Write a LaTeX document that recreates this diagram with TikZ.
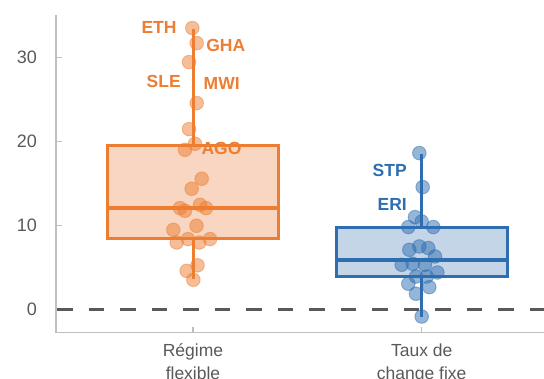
\documentclass[tikz,border=0pt]{standalone}
\usepackage{fontspec}
\setmainfont{Liberation Sans}
\usepackage{tikz}
\usetikzlibrary{calc}

\definecolor{orgline}{RGB}{237,125,49}
\definecolor{orgfill}{RGB}{248,214,193}
\definecolor{blueline}{RGB}{46,110,176}
\definecolor{bluefill}{RGB}{197,213,232}
\definecolor{axisgray}{RGB}{191,191,191}
\definecolor{textgray}{RGB}{89,89,89}

\tikzset{
	axisline/.style={axisgray, line width=1.5pt},
	ticklab/.style={textgray, anchor=east, inner sep=0pt, font=\fontsize{18}{18}\selectfont},
	catlab/.style={textgray, anchor=north, inner sep=0pt, align=center, font=\fontsize{17.5}{23}\selectfont},
	ctrylab/.style={inner sep=0pt, font=\fontsize{17.5}{17.5}\selectfont\bfseries},
	orgdot/.style={fill=orgline, fill opacity=0.5, draw=orgline, draw opacity=0.45, line width=1pt},
	bluedot/.style={fill=blueline, fill opacity=0.5, draw=blueline, draw opacity=0.45, line width=1pt},
}

\begin{document}
\begin{tikzpicture}[x=1pt, y=8.4pt]
	\useasboundingbox (0,-8.298) rectangle (544,36.82);

	% axes
	\draw[axisline] (56,35.06) -- (56,-2.738) -- (544,-2.738);
	\draw[axisline] (56,0) -- (62,0);
	\draw[axisline] (56,10) -- (62,10);
	\draw[axisline] (56,20) -- (62,20);
	\draw[axisline] (56,30) -- (62,30);
	\draw[axisline] (193,-2.738) -- (193,-2.1);
	\draw[axisline] (421.7,-2.738) -- (421.7,-2.1);

	\node[ticklab] (t0) at (37,0) {0};
	\node[ticklab] (t10) at (37,10) {10};
	\node[ticklab] (t20) at (37,20) {20};
	\node[ticklab] (t30) at (37,30) {30};

	\node[catlab] (flex) at (193,-4.1) {Régime\\flexible};
	\node[catlab] (fixe) at (421.7,-4.1) {Taux de\\change fixe};

	% zero line
	\draw[textgray, line width=2.5pt, dash pattern=on 15.5pt off 16pt] (57.3,0) -- (544,0);

	% boxes
	\filldraw[fill=orgfill, draw=orgline, line width=3pt] (107.7,8.45) rectangle (278.3,19.44);
	\draw[orgline, line width=4.5pt] (107.7,12.06) -- (278.3,12.06);
	\draw[orgline, line width=3pt] (193,19.44) -- (193,33.37);
	\draw[orgline, line width=3pt] (193,8.45) -- (193,3.61);

	\filldraw[fill=bluefill, draw=blueline, line width=3pt] (336,3.88) rectangle (507.5,9.76);
	\draw[blueline, line width=4.5pt] (336,5.87) -- (507.5,5.87);
	\draw[blueline, line width=3pt] (421.7,9.76) -- (421.7,18.49);
	\draw[blueline, line width=3pt] (421.7,3.88) -- (421.7,-0.88);

	% points
	\filldraw[orgdot] (192.3,33.48) circle (6.8pt);
	\filldraw[orgdot] (196.7,31.69) circle (6.8pt);
	\filldraw[orgdot] (189,29.43) circle (6.8pt);
	\filldraw[orgdot] (196.7,24.55) circle (6.8pt);
	\filldraw[orgdot] (189,21.45) circle (6.8pt);
	\filldraw[orgdot] (195,19.70) circle (6.8pt);
	\filldraw[orgdot] (185,18.99) circle (6.8pt);
	\filldraw[orgdot] (201.7,15.54) circle (6.8pt);
	\filldraw[orgdot] (191.7,14.35) circle (6.8pt);
	\filldraw[orgdot] (180,12.05) circle (6.8pt);
	\filldraw[orgdot] (185,11.73) circle (6.8pt);
	\filldraw[orgdot] (200,12.44) circle (6.8pt);
	\filldraw[orgdot] (206,12.05) circle (6.8pt);
	\filldraw[orgdot] (173.3,9.46) circle (6.8pt);
	\filldraw[orgdot] (196.5,9.94) circle (6.8pt);
	\filldraw[orgdot] (176.7,7.95) circle (6.8pt);
	\filldraw[orgdot] (188,8.36) circle (6.8pt);
	\filldraw[orgdot] (199.3,7.95) circle (6.8pt);
	\filldraw[orgdot] (210,8.36) circle (6.8pt);
	\filldraw[orgdot] (197.5,5.24) circle (6.8pt);
	\filldraw[orgdot] (186.7,4.58) circle (6.8pt);
	\filldraw[orgdot] (193.3,3.51) circle (6.8pt);

	\filldraw[bluedot] (419.3,18.6) circle (6.8pt);
	\filldraw[bluedot] (422.7,14.55) circle (6.8pt);
	\filldraw[bluedot] (415,10.98) circle (6.8pt);
	\filldraw[bluedot] (421.7,10.45) circle (6.8pt);
	\filldraw[bluedot] (408.3,9.79) circle (6.8pt);
	\filldraw[bluedot] (433.3,9.79) circle (6.8pt);
	\filldraw[bluedot] (409.3,7.08) circle (6.8pt);
	\filldraw[bluedot] (419.3,7.48) circle (6.8pt);
	\filldraw[bluedot] (428.3,7.29) circle (6.8pt);
	\filldraw[bluedot] (435,6.29) circle (6.8pt);
	\filldraw[bluedot] (401.7,5.30) circle (6.8pt);
	\filldraw[bluedot] (412.7,5.42) circle (6.8pt);
	\filldraw[bluedot] (425,5.30) circle (6.8pt);
	\filldraw[bluedot] (437.3,4.38) circle (6.8pt);
	\filldraw[bluedot] (416,3.90) circle (6.8pt);
	\filldraw[bluedot] (426.7,3.90) circle (6.8pt);
	\filldraw[bluedot] (408.3,3.04) circle (6.8pt);
	\filldraw[bluedot] (429.3,2.64) circle (6.8pt);
	\filldraw[bluedot] (416,1.85) circle (6.8pt);
	\filldraw[bluedot] (421.7,-0.86) circle (6.8pt);

	% country labels
	\node[ctrylab, orgline] (eth) at (159,33.6) {ETH};
	\node[ctrylab, orgline] (gha) at (225.8,31.42) {GHA};
	\node[ctrylab, orgline] (sle) at (163.7,27.15) {SLE};
	\node[ctrylab, orgline] (mwi) at (221.7,26.85) {MWI};
	\node[ctrylab, orgline] (ago) at (221.5,19.1) {AGO};
	\node[ctrylab, blueline] (stp) at (389.7,16.5) {STP};
	\node[ctrylab, blueline] (eri) at (392.2,12.5) {ERI};
\end{tikzpicture}
\end{document}
